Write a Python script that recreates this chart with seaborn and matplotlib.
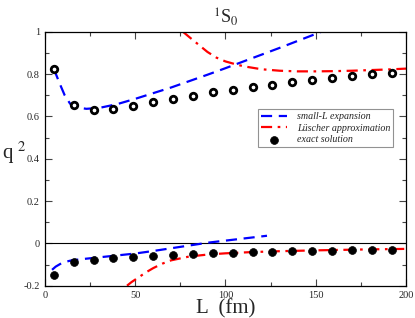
import numpy as np
import pandas as pd
import matplotlib
matplotlib.use("Agg")
import matplotlib.pyplot as plt
import seaborn as sns
from matplotlib.ticker import MultipleLocator

# exact solution points
L_pts      = [5, 16, 27, 38, 49, 60, 71, 82, 93, 104, 115, 126, 137, 148, 159, 170, 181, 192]
q2_upper   = [0.824, 0.655, 0.632, 0.636, 0.650, 0.666, 0.682, 0.698, 0.715, 0.726,
              0.740, 0.750, 0.763, 0.773, 0.783, 0.791, 0.800, 0.807]
q2_lower   = [-0.148, -0.090, -0.078, -0.069, -0.063, -0.058, -0.055, -0.052, -0.047,
              -0.044, -0.042, -0.039, -0.038, -0.036, -0.034, -0.033, -0.031, -0.030]

# small-L expansion
L_small_up  = [5, 8, 11, 14, 18, 23, 30, 40, 50, 60, 70, 80, 90, 100, 110, 120, 130, 140, 150, 153]
q2_small_up = [0.825, 0.76, 0.70, 0.66, 0.642, 0.636, 0.640, 0.658, 0.683, 0.710, 0.737,
               0.767, 0.797, 0.828, 0.860, 0.892, 0.924, 0.957, 0.990, 1.0]
L_small_lo  = [4, 6, 10, 15, 20, 30, 40, 50, 60, 70, 80, 90, 100, 110, 123]
q2_small_lo = [-0.125, -0.11, -0.09, -0.08, -0.075, -0.066, -0.057, -0.048, -0.036,
               -0.023, -0.01, 0.003, 0.013, 0.023, 0.036]

# Luscher approximation
L_lus_up  = [76.5, 80, 85, 90, 95, 100, 105, 110, 120, 130, 140, 150, 160, 170, 180, 190, 200]
q2_lus_up = [1.0, 0.975, 0.94, 0.905, 0.878, 0.86, 0.848, 0.837, 0.823, 0.816, 0.813,
             0.813, 0.814, 0.816, 0.819, 0.822, 0.826]
L_lus_lo  = [45.5, 48, 52, 56, 60, 65, 70, 80, 90, 100, 115, 130, 150, 175, 200]
q2_lus_lo = [-0.2, -0.183, -0.16, -0.137, -0.117, -0.096, -0.08, -0.062, -0.053, -0.047,
             -0.041, -0.037, -0.033, -0.029, -0.026]

x_ticks = [0, 50, 100, 150, 200]
y_ticks = [-0.2, 0, 0.2, 0.4, 0.6, 0.8, 1.0]
y_tick_labels = ["-0.2", "0", "0.2", "0.4", "0.6", "0.8", "1"]

sns.set_style("ticks")
plt.rcParams['font.family'] = ['Liberation Serif', 'DejaVu Serif']
plt.rcParams['mathtext.fontset'] = 'stix'

fig = plt.figure(figsize=(4.15, 3.18), dpi=100)
ax = fig.add_axes([0.108, 0.1016, 0.8705, 0.7984])

blue = "#0000ff"
red = "#ff0000"
dash = (0, (5, 3))
dashdot = (0, (5, 2.5, 1.2, 2.5))

sns.lineplot(x=L_small_up, y=q2_small_up, ax=ax, color=blue, lw=1.6,
             linestyle=dash, label="small-L expansion", sort=False)
sns.lineplot(x=L_small_lo, y=q2_small_lo, ax=ax, color=blue, lw=1.6,
             linestyle=dash, sort=False)
sns.lineplot(x=L_lus_up, y=q2_lus_up, ax=ax, color=red, lw=1.6,
             linestyle=dashdot, label="Lüscher approximation", sort=False)
sns.lineplot(x=L_lus_lo, y=q2_lus_lo, ax=ax, color=red, lw=1.6,
             linestyle=dashdot, sort=False)

sns.scatterplot(x=L_pts, y=q2_upper, ax=ax, marker="o", s=22, facecolor="white",
                edgecolor="black", linewidth=2.0, zorder=5)
sns.scatterplot(x=L_pts, y=q2_lower, ax=ax, marker="o", s=32, color="black",
                edgecolor="black", linewidth=0.5, zorder=5, label="exact solution")

ax.axhline(0, color="black", lw=0.8, zorder=1)

ax.set_xlim(0, 200)
ax.set_ylim(-0.2, 1.0)
ax.set_xticks(x_ticks)
ax.set_xticklabels([str(v) for v in x_ticks])
ax.xaxis.set_minor_locator(MultipleLocator(25))
ax.set_yticks(y_ticks)
ax.set_yticklabels(y_tick_labels)
ax.yaxis.set_minor_locator(MultipleLocator(0.1))
ax.tick_params(which="both", direction="in", top=True, right=True, labelsize=7.5,
               width=0.8, color="#444444")
ax.tick_params(which="major", length=5)
ax.tick_params(which="minor", length=3)
for sp in ax.spines.values():
    sp.set_linewidth(0.9)
    sp.set_color("black")

ax.set_xlabel("L  (fm)", fontsize=15, labelpad=0)
ax.set_ylabel("q $^{2}$", fontsize=15, rotation=0, labelpad=6)
ax.yaxis.set_label_coords(-0.085, 0.47)
ax.set_title("$^{1}$S$_{0}$", fontsize=13, pad=6)

leg = ax.legend(loc="upper right", bbox_to_anchor=(0.978, 0.715), fancybox=False,
                frameon=True, edgecolor="#777777",
                prop={"style": "italic", "size": 7.2}, handlelength=2.6,
                borderpad=0.3, labelspacing=0.25, handletextpad=1.0)
leg.get_frame().set_linewidth(0.8)

fig.savefig("out.png", dpi=100)
